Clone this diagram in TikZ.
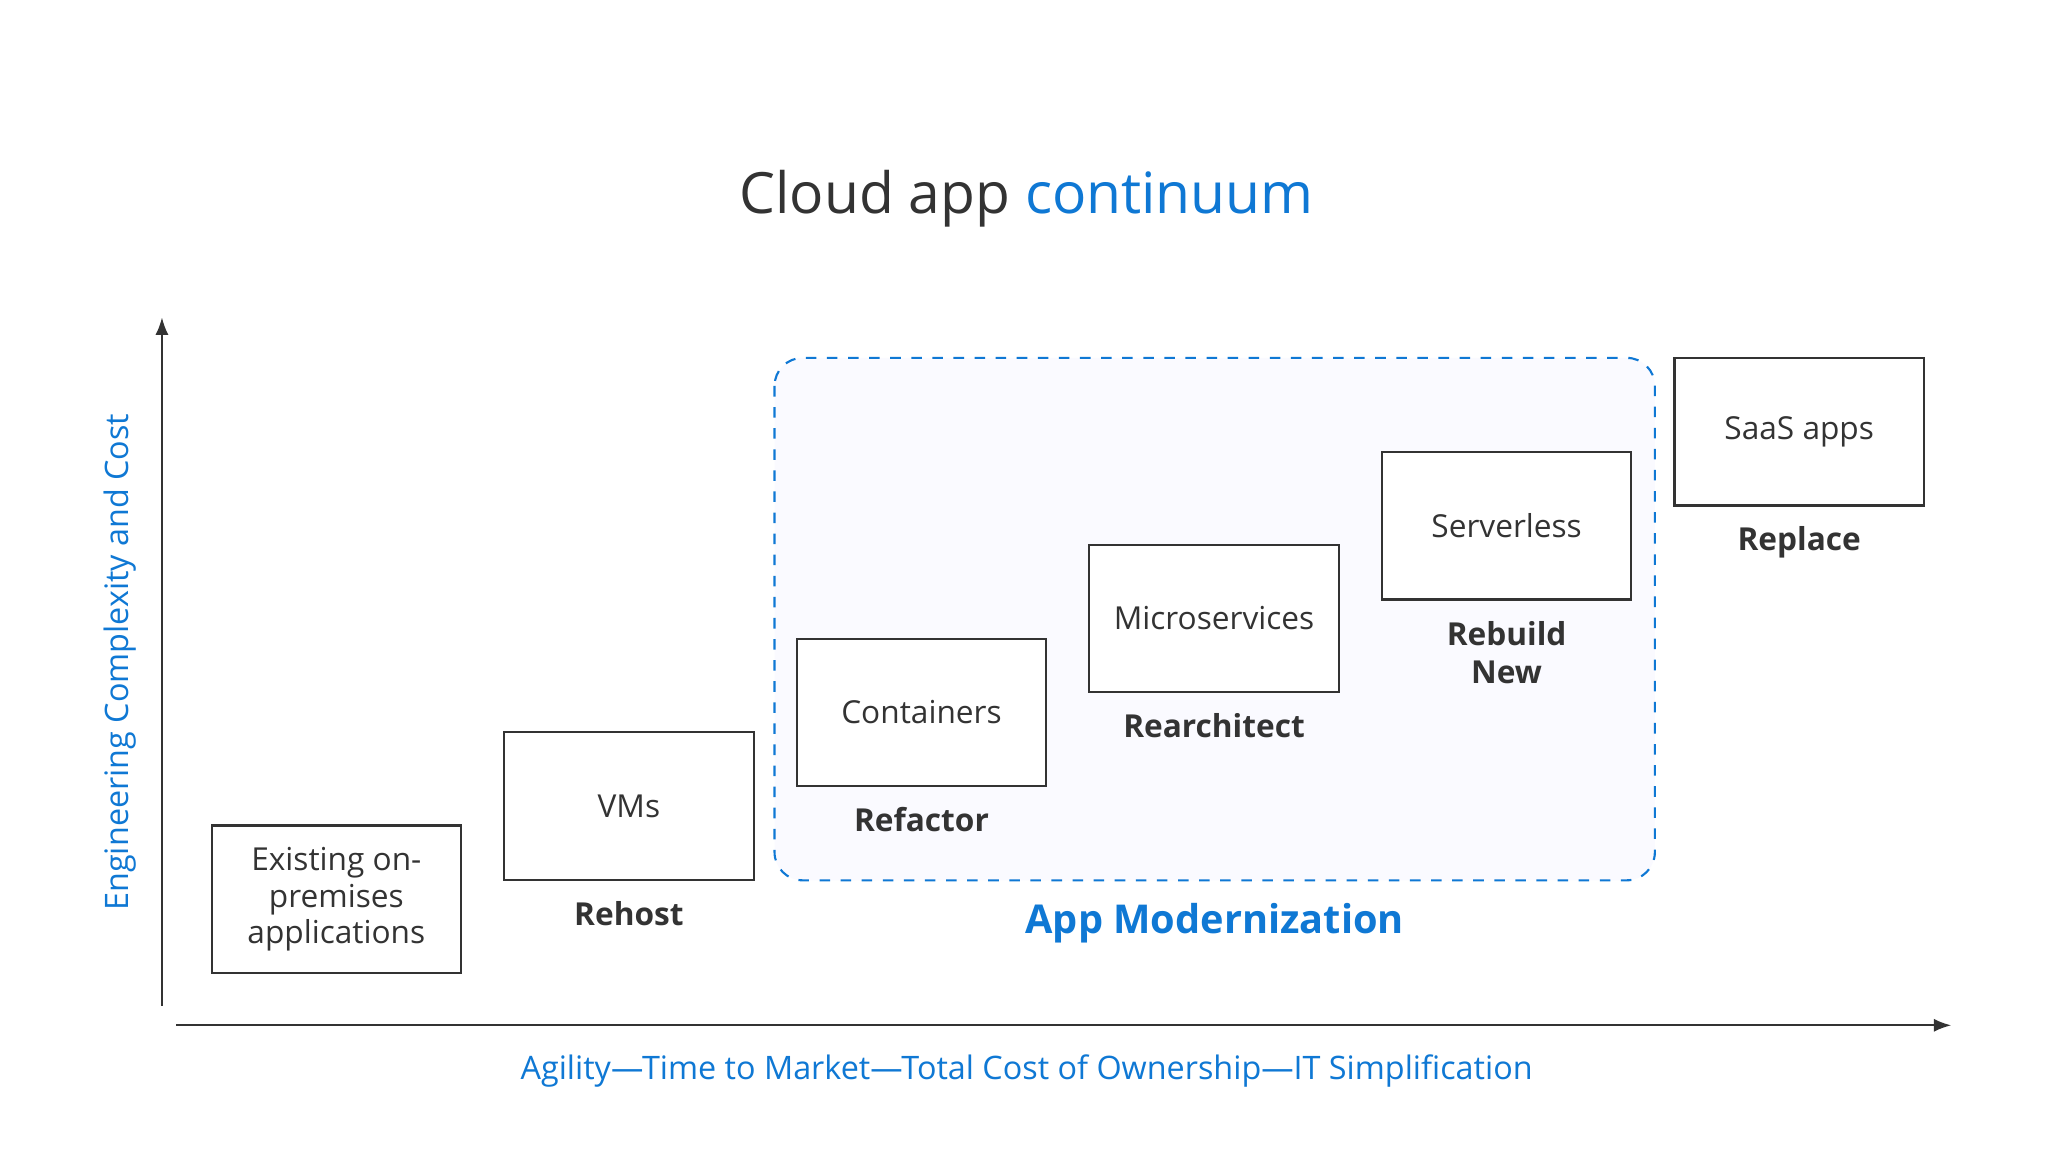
\documentclass[tikz,border=0pt]{standalone}
\usepackage{fontspec}
\setmainfont{Open Sans}
\usetikzlibrary{positioning,arrows.meta}
\definecolor{msblue}{HTML}{0F78D4}
\definecolor{ink}{HTML}{333333}
\tikzset{
    stage/.style={draw=ink, semithick, minimum width=2.494cm, minimum height=1.476cm, align=center, font=\fontsize{9}{10.5}\selectfont, text=ink, inner sep=0pt},
    move/.style={font=\bfseries\fontsize{9}{11}\selectfont, text=ink, align=center, below=0.08cm of #1},
    axislabel/.style={font=\fontsize{9.2}{11}\selectfont, text=msblue}
}
\begin{document}
\begin{tikzpicture}[x=0.01306cm, y=-0.01306cm]
    \useasboundingbox[fill=white] (0,0) rectangle (1568,882);

    % Title
    \node[font=\fontsize{16.2}{19}\selectfont, text=ink] (title) at (786,152) {Cloud app \textcolor{msblue}{continuum}};

    % Modernization area
    \draw[msblue, dashed, semithick, rounded corners=8, fill=blue!2] (593,274) rectangle (1267,674);
    \node[font=\bfseries\fontsize{11.3}{14}\selectfont, text=msblue] (modern) at (930,707) {App Modernization};

    % Axes
    \coordinate (ybot) at (124,770);
    \coordinate (ytop) at (124,243);
    \coordinate (xleft) at (135,785);
    \coordinate (xright) at (1494,785);
    \draw[ink, semithick, -{Latex[length=5pt]}] (ybot) -- (ytop);
    \draw[ink, semithick, -{Latex[length=5pt]}] (xleft) -- (xright);
    \node[axislabel, rotate=90] (ylabel) at (92,507) {Engineering Complexity and Cost};
    \node[axislabel] (xlabel) at (786,820) {Agility—Time to Market—Total Cost of Ownership—IT Simplification};

    % Stages
    \node[stage, fill=white] (existing) at (257.5,688.5) {Existing on-\\premises\\applications};
    \node[stage, fill=white] (vms) at (481.5,617) {VMs};
    \node[stage, fill=white] (containers) at (705.5,545.5) {Containers};
    \node[stage, fill=white] (micro) at (929.5,473.5) {Microservices};
    \node[stage, fill=white] (serverless) at (1153.5,402.5) {Serverless};
    \node[stage, fill=white] (saas) at (1377.5,330.5) {SaaS apps};

    % Moves
    \node[move=vms] (rehost) {Rehost};
    \node[move=containers] (refactor) {Refactor};
    \node[move=micro] (rearch) {Rearchitect};
    \node[move=serverless] (rebuild) {Rebuild\\New};
    \node[move=saas] (replace) {Replace};
\end{tikzpicture}
\end{document}
